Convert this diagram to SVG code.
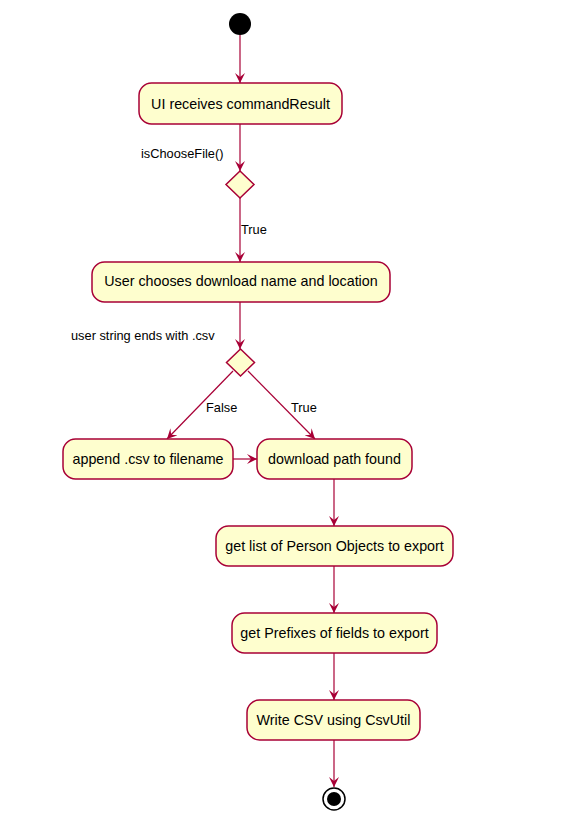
<svg xmlns="http://www.w3.org/2000/svg" width="570" height="824" viewBox="0 0 570 824">
<style>
.box{fill:#FEFECE;stroke:#A80036;stroke-width:1.5}
.t{font-family:"Liberation Sans",Arial,sans-serif;font-size:14.3px;fill:#000;text-anchor:middle}
.l{font-family:"Liberation Sans",Arial,sans-serif;font-size:12.8px;fill:#000}
.c{stroke:#A80036;stroke-width:1.2;fill:none}
</style>
<defs>
<marker id="ah" markerUnits="userSpaceOnUse" markerWidth="11" markerHeight="10" refX="10" refY="5" orient="auto" viewBox="0 0 11 10">
<path d="M0,0 L10,5 L0,10 L4,5 Z" fill="#A80036"/>
</marker>
</defs>
<rect width="570" height="824" fill="#fff"/>
<g id="connectors">
<line class="c" x1="240" y1="35" x2="240" y2="83" marker-end="url(#ah)"/>
<line class="c" x1="240" y1="124" x2="240" y2="171" marker-end="url(#ah)"/>
<line class="c" x1="240" y1="198" x2="240" y2="262" marker-end="url(#ah)"/>
<line class="c" x1="240" y1="302" x2="240" y2="349" marker-end="url(#ah)"/>
<line class="c" x1="233" y1="371" x2="167" y2="439" marker-end="url(#ah)"/>
<line class="c" x1="248" y1="371" x2="315" y2="439" marker-end="url(#ah)"/>
<line class="c" x1="233" y1="459" x2="257" y2="459" marker-end="url(#ah)"/>
<line class="c" x1="334" y1="479" x2="334" y2="526" marker-end="url(#ah)"/>
<line class="c" x1="334" y1="566" x2="334" y2="613" marker-end="url(#ah)"/>
<line class="c" x1="334" y1="653" x2="334" y2="700" marker-end="url(#ah)"/>
<line class="c" x1="334" y1="740" x2="334" y2="787" marker-end="url(#ah)"/>
<text class="l" x="141" y="158">isChooseFile()</text>
<text class="l" x="241" y="234">True</text>
<text class="l" x="71" y="340">user string ends with .csv</text>
<text class="l" x="206" y="412">False</text>
<text class="l" x="291" y="412">True</text>
</g>
<g id="start"><circle cx="240" cy="24" r="11" fill="#000"/></g>
<g id="n1"><rect class="box" x="139" y="83" width="203" height="41" rx="12.5"/><text class="t" x="240.5" y="109">UI receives commandResult</text></g>
<g id="d1"><polygon class="box" points="240,171 254,184.5 240,198 226,184.5"/></g>
<g id="n2"><rect class="box" x="92" y="262" width="298" height="40" rx="12.5"/><text class="t" x="241" y="286">User chooses download name and location</text></g>
<g id="d2"><polygon class="box" points="240.5,349 254.5,362.5 240.5,376 226.5,362.5"/></g>
<g id="n3"><rect class="box" x="63" y="439" width="170" height="40" rx="12.5"/><text class="t" x="148" y="464">append .csv to filename</text></g>
<g id="n4"><rect class="box" x="257" y="439" width="155" height="40" rx="12.5"/><text class="t" x="334.5" y="464">download path found</text></g>
<g id="n5"><rect class="box" x="216" y="526" width="237" height="40" rx="12.5"/><text class="t" x="334.5" y="551">get list of Person Objects to export</text></g>
<g id="n6"><rect class="box" x="232" y="613" width="205" height="40" rx="12.5"/><text class="t" x="334.5" y="638">get Prefixes of fields to export</text></g>
<g id="n7"><rect class="box" x="247" y="700" width="173" height="40" rx="12.5"/><text class="t" x="333.5" y="725">Write CSV using CsvUtil</text></g>
<g id="end"><circle cx="334" cy="799" r="11" fill="none" stroke="#000" stroke-width="1.5"/><circle cx="334" cy="799" r="7" fill="#000"/></g>
</svg>
